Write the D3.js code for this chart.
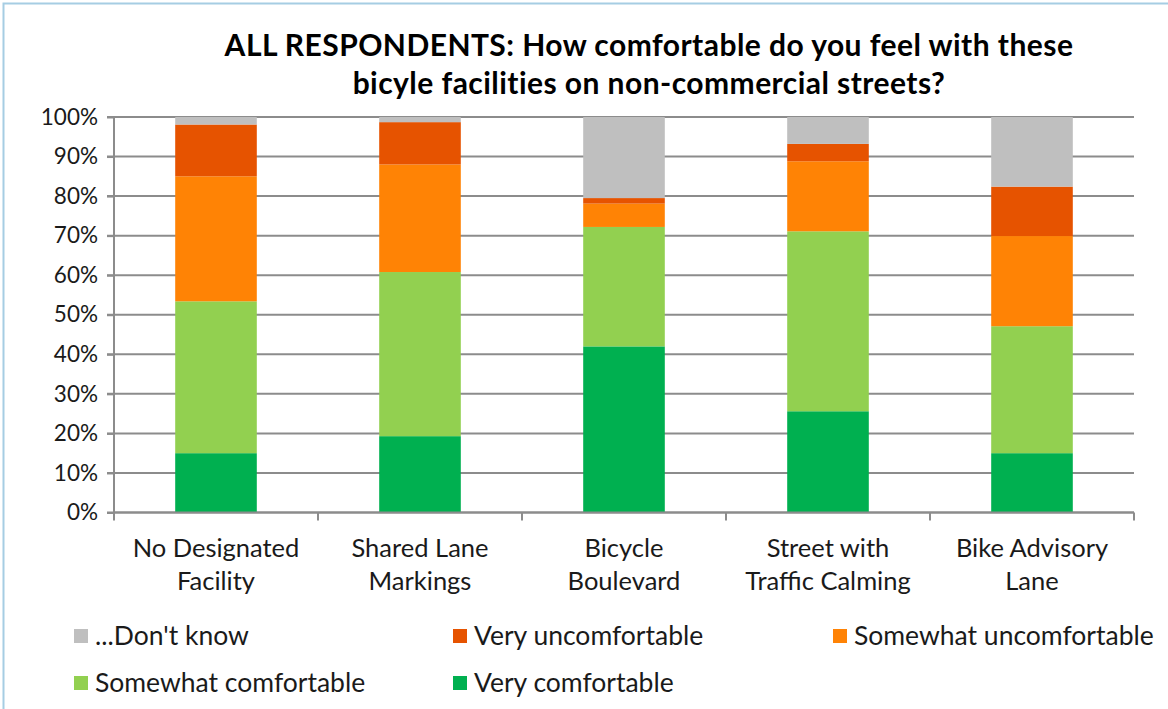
<!DOCTYPE html>
<html><head><meta charset="utf-8">
<script src="https://cdn.jsdelivr.net/npm/d3@7"></script>
<style>html,body{margin:0;padding:0;background:#fff;} svg{display:block;font-family:Lato,"Open Sans",sans-serif;}</style>
</head><body>
<svg id="chart" width="1168" height="709"></svg>
<script>
const categories = [["No Designated","Facility"],["Shared Lane","Markings"],["Bicycle","Boulevard"],["Street with","Traffic Calming"],["Bike Advisory","Lane"]];
const seriesNames = ["Very comfortable","Somewhat comfortable","Somewhat uncomfortable","Very uncomfortable","...Don't know"];
const veryComfortable = [15.0, 19.3, 42.0, 25.6, 15.0];
const somewhatComfortable = [38.4, 41.5, 30.2, 45.5, 32.1];
const somewhatUncomfortable = [31.6, 27.2, 5.9, 17.7, 22.8];
const veryUncomfortable = [13.1, 10.7, 1.4, 4.4, 12.5];
const dontKnow = [1.9, 1.3, 20.5, 6.8, 17.6];
const yTicks = [0,10,20,30,40,50,60,70,80,90,100];
const colors = {"Very comfortable":"#00B050","Somewhat comfortable":"#92D050","Somewhat uncomfortable":"#FF8305","Very uncomfortable":"#E65300","...Don't know":"#BFBFBF"};
const legendOrder = ["...Don't know","Very uncomfortable","Somewhat uncomfortable","Somewhat comfortable","Very comfortable"];

const svg = d3.select("#chart");
// outer frame
svg.append("rect").attr("x",3.5).attr("y",3.5).attr("width",1180).attr("height",720)
  .attr("fill","none").attr("stroke","#A6CDE3").attr("stroke-width",2);

const m = {left:114, right:1134, top:117, bottom:512.5};
const keys = ["vc","sc","su","vu","dk"];
const rows = categories.map((c,i)=>({idx:i, vc:veryComfortable[i], sc:somewhatComfortable[i], su:somewhatUncomfortable[i], vu:veryUncomfortable[i], dk:dontKnow[i]}));
const stack = d3.stack().keys(keys)(rows);

const x = d3.scaleBand().domain(d3.range(categories.length)).range([m.left,m.right]).paddingInner(0.6).paddingOuter(0.3);
const xb = d3.scaleBand().domain(d3.range(categories.length)).range([m.left,m.right]);
const y = d3.scaleLinear().domain([0,100]).range([m.bottom,m.top]);

// gridlines
svg.append("g").selectAll("line").data(yTicks).join("line")
  .attr("x1",m.left-7).attr("x2",m.right).attr("y1",d=>y(d)).attr("y2",d=>y(d))
  .attr("stroke","#8C8C8C").attr("stroke-width",2);

// bars
svg.append("g").selectAll("g").data(stack).join("g")
  .attr("fill",(d,i)=>colors[seriesNames[i]])
  .selectAll("rect").data(d=>d).join("rect")
  .attr("x",(d,i)=>x(i)).attr("width",x.bandwidth())
  .attr("y",d=>y(d[1])).attr("height",d=>y(d[0])-y(d[1]));

// y axis
const yAxis = d3.axisLeft(y).tickValues(yTicks).tickFormat(d=>d+"%").tickSize(7).tickPadding(9);
const gy = svg.append("g").attr("transform",`translate(${m.left},0)`).call(yAxis);
gy.select(".domain").attr("stroke","#8C8C8C").attr("stroke-width",2).attr("d",`M-7,${y(100)}H0V${y(0)}`);
gy.selectAll(".tick line").attr("stroke","#8C8C8C").attr("stroke-width",2);
gy.selectAll("text").attr("font-size",22.5).attr("fill","#1a1a1a").attr("font-family","Lato");

// x axis
svg.append("line").attr("x1",m.left).attr("x2",m.right).attr("y1",m.bottom).attr("y2",m.bottom).attr("stroke","#8C8C8C").attr("stroke-width",2);
const bounds = d3.range(categories.length+1).map(i=> i<categories.length ? xb(i) : m.right);
svg.append("g").selectAll("line").data(bounds).join("line")
  .attr("x1",d=>d).attr("x2",d=>d).attr("y1",m.bottom).attr("y2",m.bottom+8)
  .attr("stroke","#8C8C8C").attr("stroke-width",2);
const xl = svg.append("g").selectAll("text").data(categories).join("text")
  .attr("text-anchor","middle").attr("font-size",25.5).attr("fill","#1a1a1a")
  .attr("x",(d,i)=>xb(i)+xb.bandwidth()/2).attr("y",557);
xl.selectAll("tspan").data(d=>d).join("tspan")
  .attr("x",function(){return this.parentNode.getAttribute("x");})
  .attr("dy",(d,i)=>i===0?0:33).text(d=>d);

// title
const title = svg.append("text").attr("text-anchor","middle").attr("font-weight","bold").attr("font-size",30)
  .attr("letter-spacing",0.45).attr("fill","#000");
title.append("tspan").attr("x",649).attr("y",56).text("ALL RESPONDENTS: How comfortable do you feel with these");
title.append("tspan").attr("x",649).attr("y",94).text("bicyle facilities on non-commercial streets?");

// legend
const legPos = [[74,636],[453,636],[833,636],[74,683],[453,683]];
const lg = svg.append("g").selectAll("g").data(legendOrder).join("g")
  .attr("transform",(d,i)=>`translate(${legPos[i][0]},${legPos[i][1]})`);
lg.append("rect").attr("x",0).attr("y",-7).attr("width",14).attr("height",14).attr("fill",d=>colors[d]);
lg.append("text").attr("x",21).attr("y",9).attr("font-size",26.5).attr("fill","#1a1a1a").text(d=>d);
</script>
</body></html>
